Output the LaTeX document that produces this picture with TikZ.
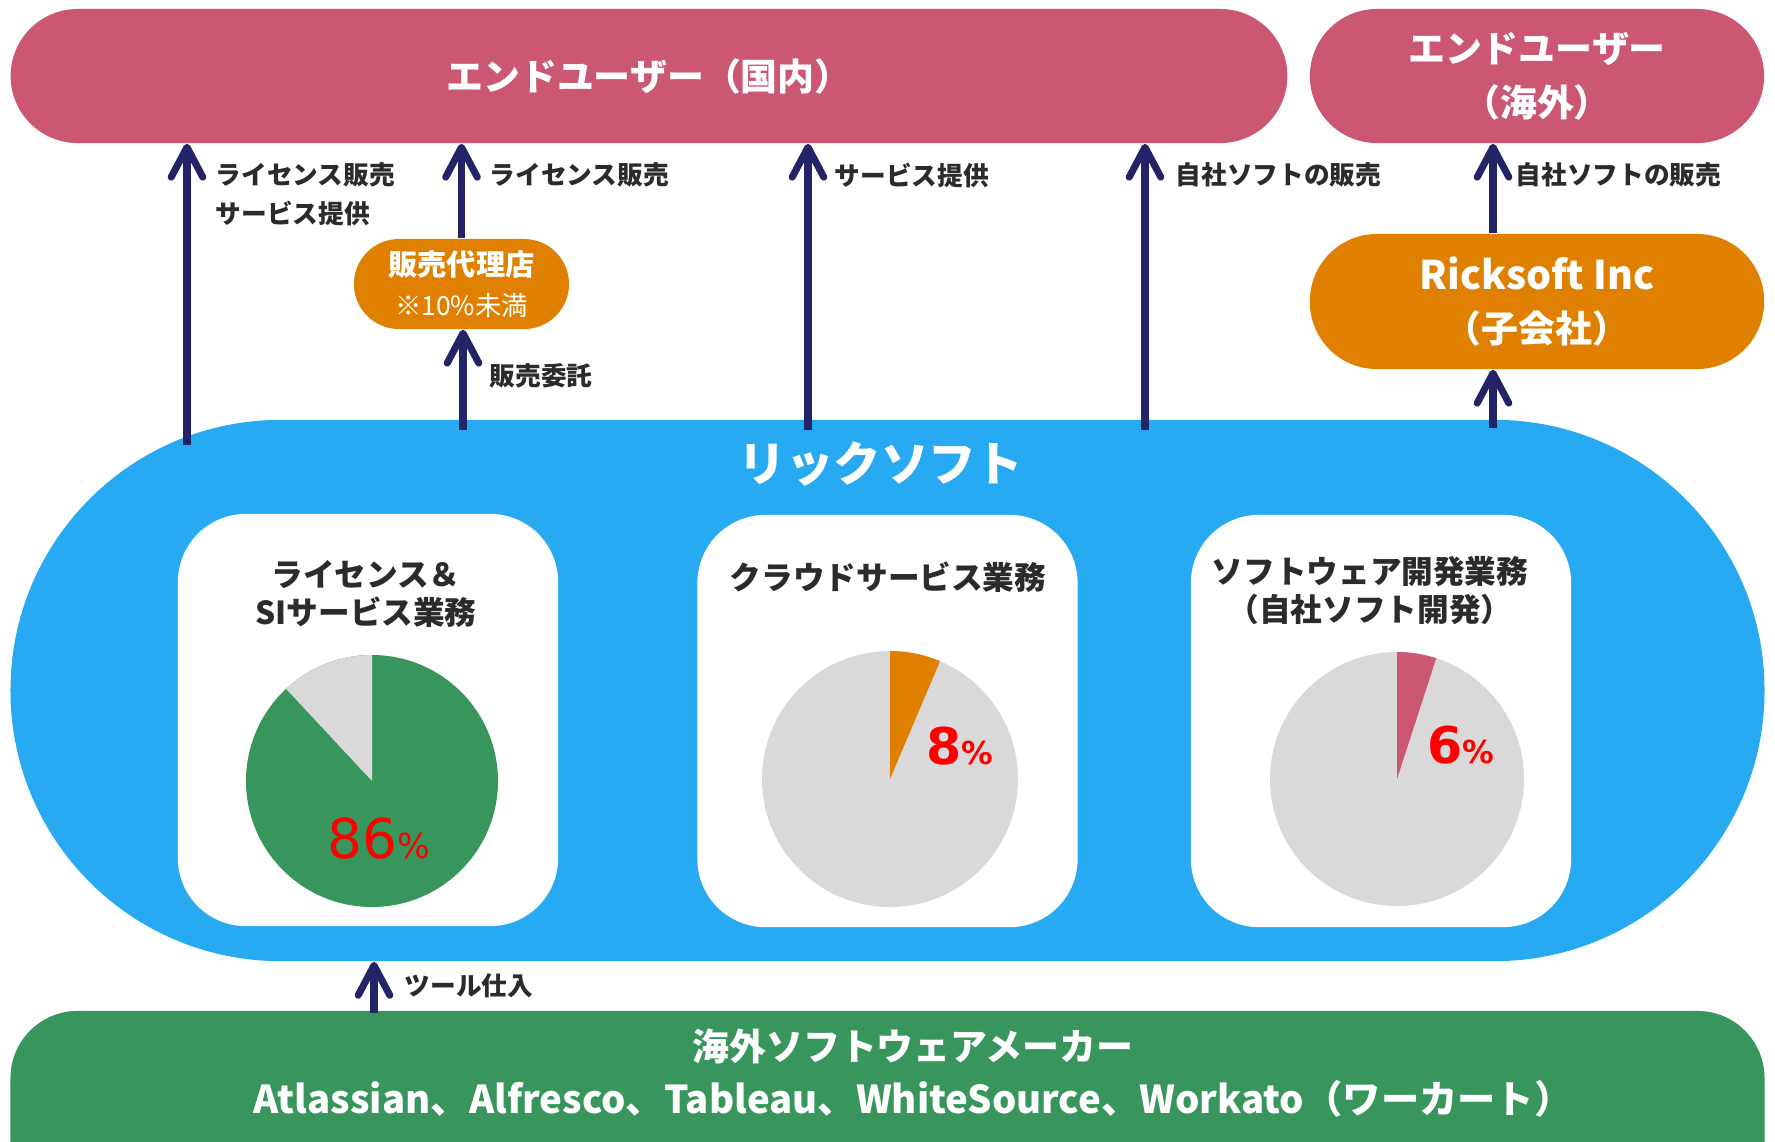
\documentclass[tikz,border=0pt]{standalone}
\usepackage{fontspec}
\setmainfont{Noto Sans CJK JP}
\newfontfamily\numfont{DejaVu Sans}
\usepackage{tikz}
\usetikzlibrary{arrows.meta}
\usetikzlibrary{calc}
\usetikzlibrary{shapes}

\definecolor{userpink}{HTML}{CB5773}
\definecolor{agentorange}{HTML}{E08000}
\definecolor{coblue}{HTML}{27AAF2}
\definecolor{makergreen}{HTML}{38965C}
\definecolor{piegray}{HTML}{D9D9D9}
\definecolor{arrownavy}{HTML}{232468}
\definecolor{labelgray}{HTML}{2B2B2B}

\begin{document}
\begin{tikzpicture}[x=0.01cm, y=0.01cm,
        bar_style/.style={rectangle, rounded corners=0.67cm, minimum height=1.34cm, inner sep=0pt, text=white, align=center, font=\bfseries\fontsize{10.5}{15.3}\selectfont},
        box_style/.style={rectangle, rounded corners=0.68cm, fill=white, minimum width=3.8cm, minimum height=4.12cm},
        title_style/.style={text=labelgray, align=center, font=\bfseries\fontsize{9}{10.8}\selectfont},
        label_style/.style={anchor=west, inner sep=0pt, text=labelgray, align=left, font=\bfseries\fontsize{7.3}{11}\selectfont},
        arrow_style/.style={draw=arrownavy, line width=2pt, -{Straight Barb[length=8.5pt, width=9pt, round]}},
        pct_style/.style={anchor=base west, inner sep=0pt, text=red}]

        \fill [white] (0,0) rectangle (1775,-1141);
        \useasboundingbox (0,0) rectangle (1775,-1141);
        \clip (0,0) rectangle (1775,-1141);

        \node [bar_style, fill=userpink, minimum width=12.76cm] (domestic) at (649,-76) {エンドユーザー（国内）};

        \node [bar_style, fill=userpink, minimum width=4.54cm] (overseas) at (1537,-76) {エンドユーザー\\（海外）};

        \node [bar_style, fill=agentorange, minimum width=4.54cm, minimum height=1.35cm] (ricksoftinc) at (1537,-301.5) {{\fontsize{11.2}{15.3}\selectfont Ricksoft Inc}\\（子会社）};

        \node [bar_style, fill=agentorange, minimum width=2.15cm, minimum height=0.9cm, rounded corners=0.45cm, font=\bfseries\fontsize{8.3}{11.4}\selectfont] (agent) at (461.5,-284) {販売代理店\\{\mdseries\fontsize{7.5}{11.4}\selectfont ※10\%未満}};

        \node [rectangle, rounded corners=2.7cm, fill=coblue, minimum width=17.53cm, minimum height=5.41cm] (company) at (887.5,-690.5) {};

        \node [rectangle, rounded corners=0.67cm, fill=makergreen, minimum width=17.53cm, minimum height=2.2cm] (maker) at (887.5,-1121) {};

        \node [text=white, font=\bfseries\fontsize{13.5}{16}\selectfont] (company_title) at (881,-464) {リックソフト};

        \node [text=white, align=center, font=\bfseries\fontsize{10.5}{15}\selectfont] (maker_text) at (913,-1073.5) {海外ソフトウェアメーカー\\{\fontsize{10.9}{15}\selectfont Atlassian、Alfresco、Tableau、WhiteSource、Workato（ワーカート）}};

        \node [box_style] (license_box) at (368,-720) {};

        \node [box_style] (cloud_box) at (887.5,-721) {};

        \node [box_style] (dev_box) at (1381,-721) {};

        \node [title_style] (license_title) at (366,-594) {ライセンス＆\\SIサービス業務};

        \node [title_style] (cloud_title) at (888,-577) {クラウドサービス業務};

        \node [title_style] (dev_title) at (1370,-591) {ソフトウェア開発業務\\（自社ソフト開発）};

        \fill [makergreen] (372,-781) circle [radius=126];
        \fill [piegray] (372,-781) -- ++(90:126) arc [start angle=90, end angle=133, radius=126] -- cycle;

        \fill [piegray] (890,-779) circle [radius=128];
        \fill [agentorange] (890,-779) -- ++(67:128) arc [start angle=67, end angle=90, radius=128] -- cycle;

        \fill [piegray] (1397,-779) circle [radius=127];
        \fill [userpink] (1397,-779) -- ++(72:127) arc [start angle=72, end angle=90, radius=127] -- cycle;

        \node [pct_style, font=\numfont\fontsize{15.6}{18}\selectfont] (license_pct) at (327,-858) {86{\fontsize{9.8}{11}\selectfont\%}};

        \node [pct_style, font=\numfont\bfseries\fontsize{14.4}{17}\selectfont] (cloud_pct) at (926,-764) {8{\fontsize{9}{11}\selectfont\%}};

        \node [pct_style, font=\numfont\bfseries\fontsize{14.4}{17}\selectfont] (dev_pct) at (1427,-763) {6{\fontsize{9}{11}\selectfont\%}};

        \coordinate (lic_foot) at (187,-445);
        \coordinate (agent_foot) at (463,-430);
        \coordinate (svc_foot) at (808,-430);
        \coordinate (own_foot) at (1145,-430);
        \coordinate (sub_foot) at (1493,-428);
        \coordinate (tool_foot) at (374,-1013);

        \draw [arrow_style] (lic_foot) -- (lic_foot |- domestic.south);

        \draw [arrow_style] (agent.north) -- (agent.north |- domestic.south);

        \draw [arrow_style] (agent_foot) -- (agent_foot |- agent.south);

        \draw [arrow_style] (svc_foot) -- (svc_foot |- domestic.south);

        \draw [arrow_style] (own_foot) -- (own_foot |- domestic.south);

        \draw [arrow_style] (sub_foot) -- (sub_foot |- ricksoftinc.south);

        \draw [arrow_style] (sub_foot |- ricksoftinc.north) -- (sub_foot |- overseas.south);

        \draw [arrow_style] (tool_foot) -- (tool_foot |- company.south);

        \node [label_style] (lic_label) at (215,-194.5) {ライセンス販売\\サービス提供};

        \node [label_style] (agent_label) at (489,-175) {ライセンス販売};

        \node [label_style] (consign_label) at (489,-376) {販売委託};

        \node [label_style] (svc_label) at (834,-175) {サービス提供};

        \node [label_style] (own_label) at (1175,-175) {自社ソフトの販売};

        \node [label_style] (sub_label) at (1515,-175) {自社ソフトの販売};

        \node [label_style] (tool_label) at (404,-986) {ツール仕入};

        \end{tikzpicture}
\end{document}
